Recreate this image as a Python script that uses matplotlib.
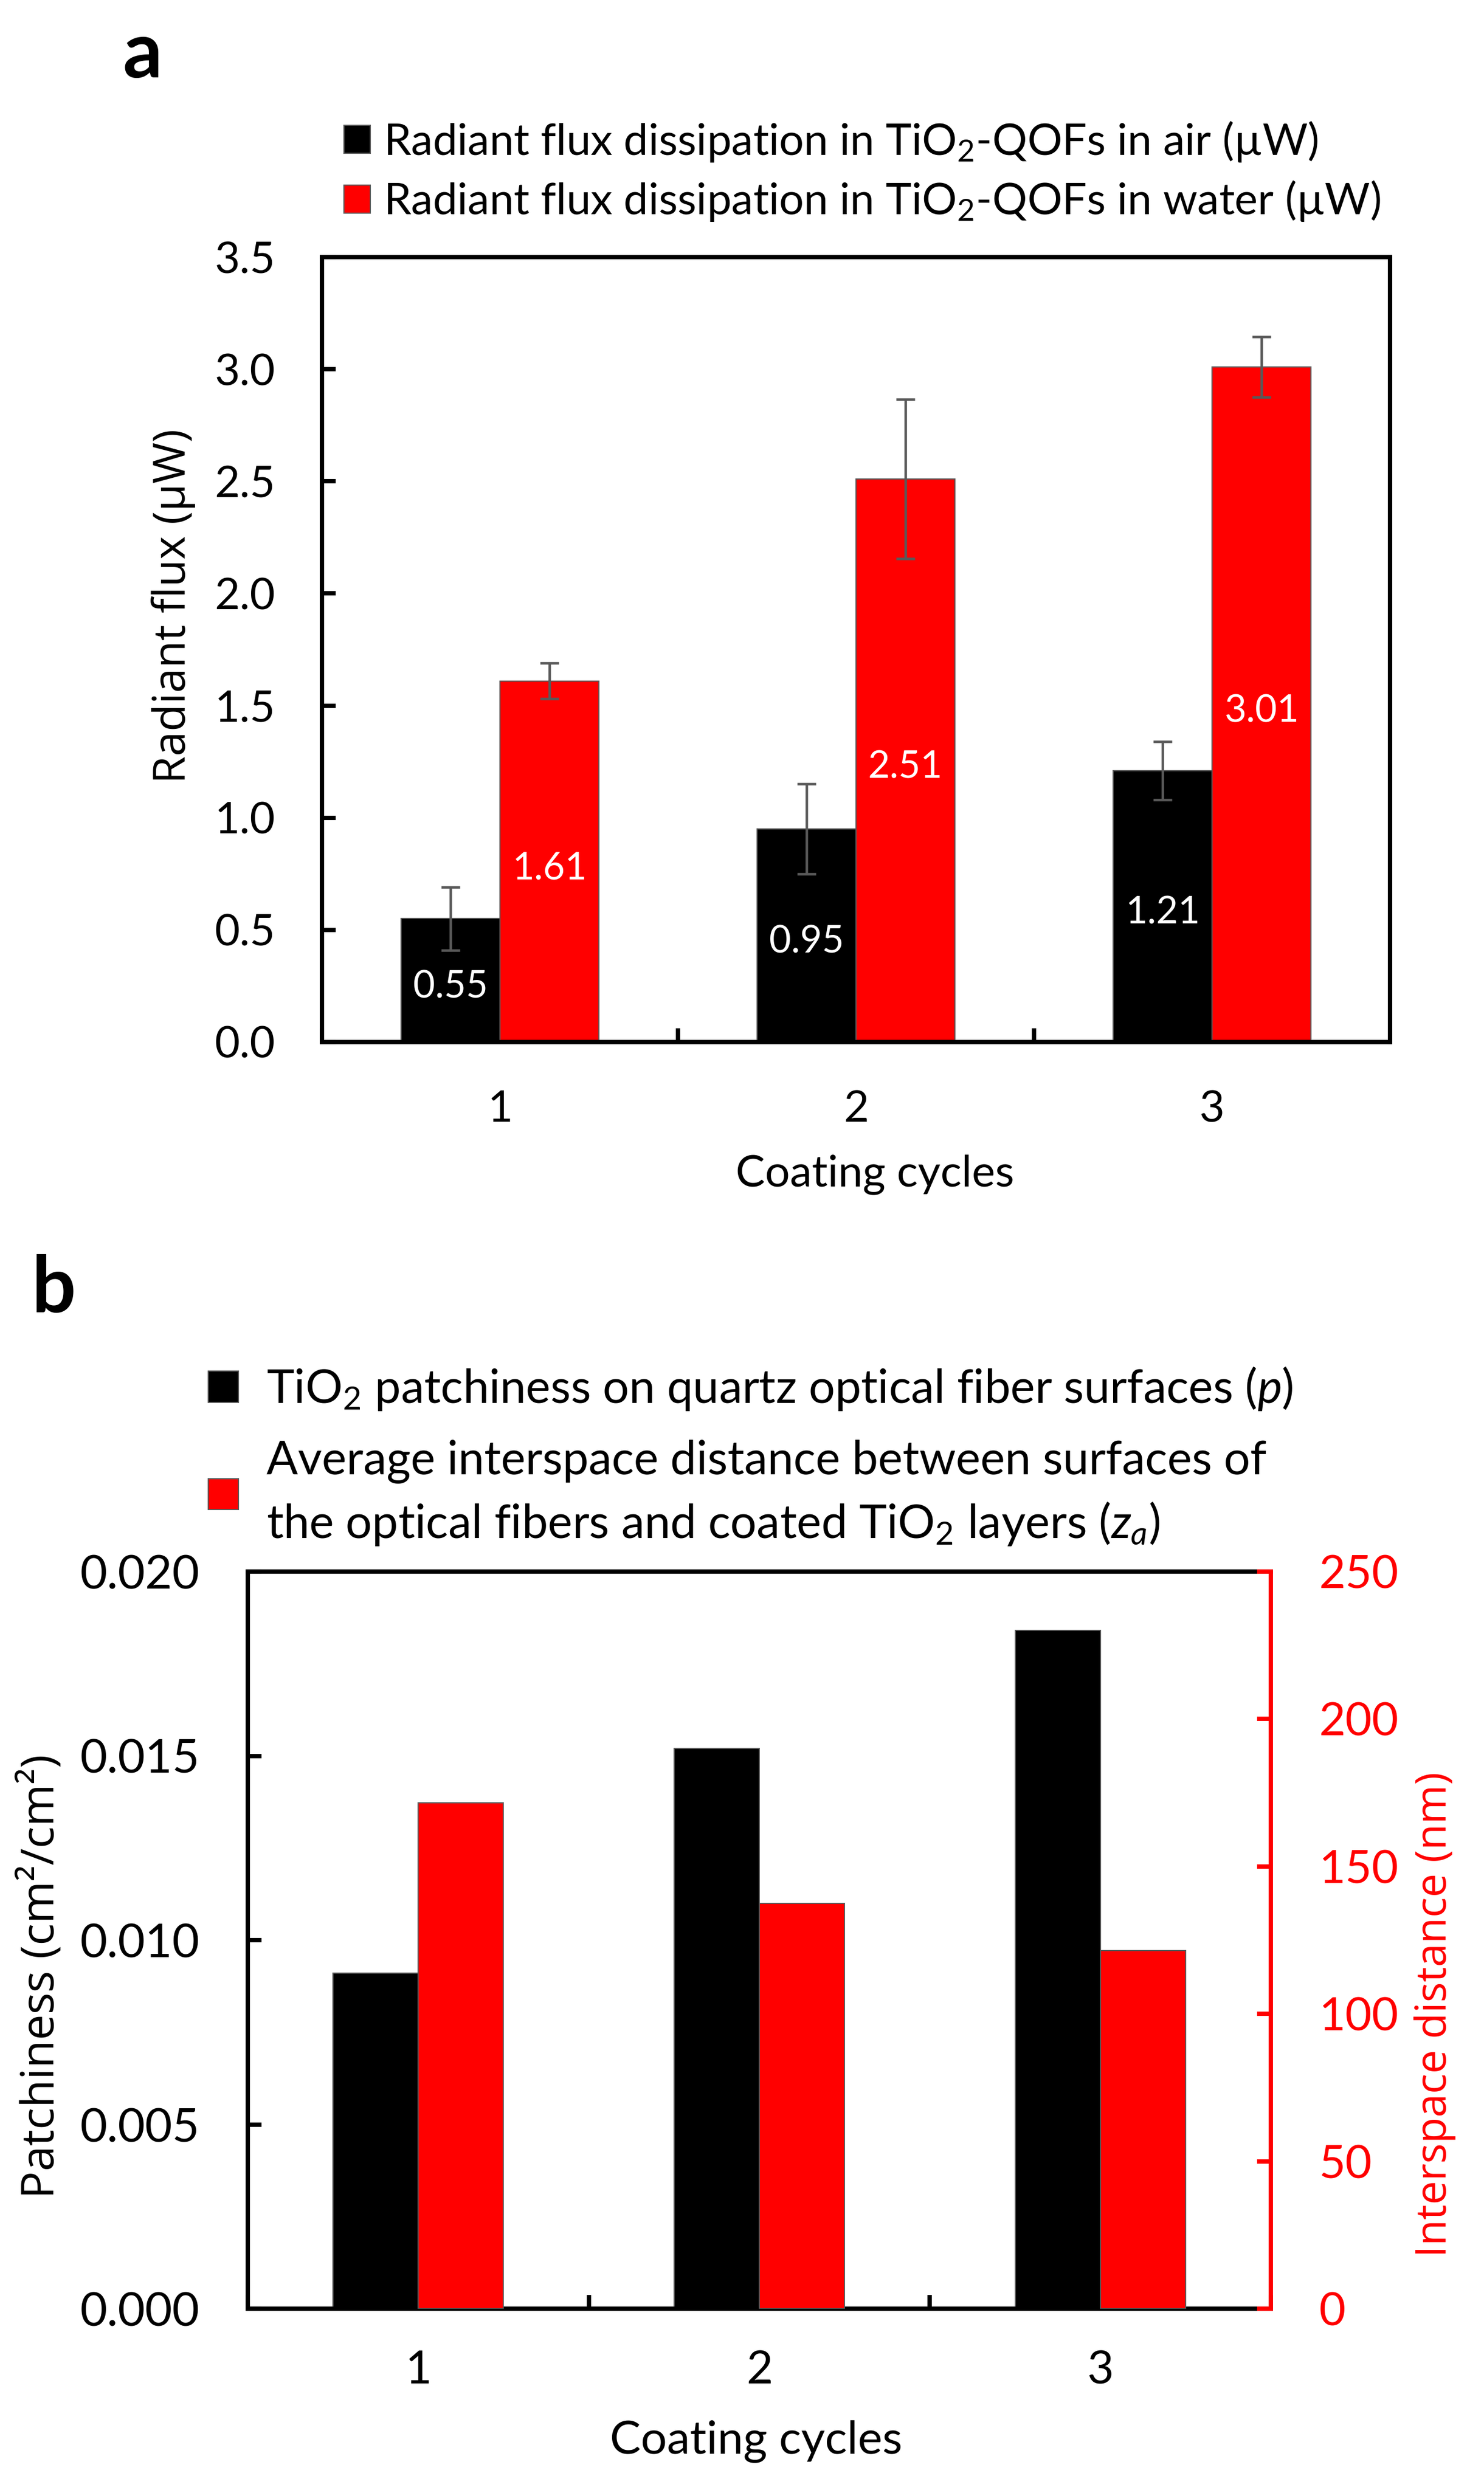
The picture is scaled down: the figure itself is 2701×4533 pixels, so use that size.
import matplotlib
matplotlib.use('Agg')
import matplotlib.pyplot as plt
from matplotlib.ticker import FixedLocator, FormatStrFormatter

# ---------------- data ----------------
cycles = [1, 2, 3]
cycle_labels = ['1', '2', '3']

flux_air = [0.55, 0.95, 1.21]
flux_air_err = [0.14, 0.20, 0.13]
flux_water = [1.61, 2.51, 3.01]
flux_water_err = [0.08, 0.355, 0.135]
flux_yticks = [0.0, 0.5, 1.0, 1.5, 2.0, 2.5, 3.0, 3.5]

patchiness = [0.0091, 0.0152, 0.0184]
interspace = [171.5, 137.5, 121.5]
patch_yticks = [0.000, 0.005, 0.010, 0.015, 0.020]
inter_yticks = [0, 50, 100, 150, 200, 250]

label_air = 'Radiant flux dissipation in TiO$_2$-QOFs in air (\u00b5W)'
label_water = 'Radiant flux dissipation in TiO$_2$-QOFs in water (\u00b5W)'
label_patch = 'TiO$_2$ patchiness on quartz optical fiber surfaces ($p$)'
label_inter = ('Average interspace distance between surfaces of\n'
               'the optical fibers and coated TiO$_2$ layers ($z_a$)')

# ---------------- style ----------------
CAL = ['Lato', 'DejaVu Sans']
SEG = ['Open Sans', 'DejaVu Sans']
plt.rcParams['font.family'] = CAL
plt.rcParams['mathtext.fontset'] = 'custom'
plt.rcParams['mathtext.rm'] = 'Lato'
plt.rcParams['mathtext.it'] = 'Lato:italic'
plt.rcParams['mathtext.bf'] = 'Lato:bold'

RED = '#FF0000'
W, H, DPI = 2701, 4533, 300
fig = plt.figure(figsize=(W / DPI, H / DPI), dpi=DPI)
fig.patch.set_facecolor('white')


def px_axes(l, r, t, b):
    return [l / W, 1 - b / H, (r - l) / W, (b - t) / H]


# ================= panel a =================
ax1 = fig.add_axes(px_axes(586, 2530, 468, 1897))
w1 = 0.278
xa = [c - w1 / 2 for c in cycles]
xw = [c + w1 / 2 for c in cycles]
ekw = dict(ecolor='#595959', elinewidth=1.1, capsize=4.0, capthick=1.1)
b_air = ax1.bar(xa, flux_air, w1, yerr=flux_air_err, color='black',
                edgecolor='#595959', linewidth=0.5, error_kw=ekw, zorder=2)
b_wat = ax1.bar(xw, flux_water, w1, yerr=flux_water_err, color=RED,
                edgecolor='#595959', linewidth=0.5, error_kw=ekw, zorder=2)
lbl_a = ax1.bar_label(b_air, labels=['%.2f' % v for v in flux_air], label_type='center',
                      color='white', fontsize=16.5, family=CAL, padding=-1.5)
lbl_w = ax1.bar_label(b_wat, labels=['%.2f' % v for v in flux_water], label_type='center',
                      color='white', fontsize=16.5, family=CAL, padding=-1.5)
for t in list(lbl_a) + list(lbl_w):
    t.set_va('center_baseline')

ax1.set_xlim(0.5, 3.5)
ax1.set_ylim(0, 3.5)
ax1.yaxis.set_major_locator(FixedLocator(flux_yticks))
ax1.yaxis.set_major_formatter(FormatStrFormatter('%.1f'))
ax1.set_xticks(cycles, cycle_labels)
ax1.set_xticks([0.5, 1.5, 2.5, 3.5], minor=True)
ax1.tick_params(axis='x', which='major', length=0, pad=21, labelsize=19)
ax1.tick_params(axis='x', which='minor', direction='in', length=6, width=1.9)
ax1.tick_params(axis='y', direction='in', length=6, width=1.9, pad=20.5, labelsize=19)
for s in ax1.spines.values():
    s.set_linewidth(1.9)

ax1.set_xlabel('Coating cycles', fontsize=19.2, family=CAL)
ax1.xaxis.set_label_coords(1592 / W, 1 - 2138 / H, transform=fig.transFigure)
ax1.xaxis.label.set_va('center')
ax1.set_ylabel('Radiant flux (\u00b5W)', fontsize=19.5, family=SEG)
ax1.yaxis.set_label_coords(316 / W, 1 - 1103 / H, transform=fig.transFigure)
ax1.yaxis.label.set_va('center')

leg1 = ax1.legend([b_air, b_wat], [label_air, label_water], loc='center left',
                  bbox_to_anchor=(626 / W, 1 - 312 / H), bbox_transform=fig.transFigure,
                  frameon=False, prop={'family': CAL, 'size': 19.1},
                  handlelength=0.6, handleheight=0.6, handletextpad=0.3,
                  borderpad=0, borderaxespad=0, labelspacing=0.36)

fig.text(259 / W, 1 - 100 / H, 'a', fontsize=34, fontweight='bold', family=CAL,
         ha='center', va='center')

# ================= panel b =================
ax2 = fig.add_axes(px_axes(451, 2313, 2861, 4203))
ax3 = ax2.twinx()
w2 = 0.25
xp = [c - w2 / 2 for c in cycles]
xi = [c + w2 / 2 for c in cycles]
b_p = ax2.bar(xp, patchiness, w2, color='black', edgecolor='#595959',
              linewidth=0.5, zorder=2)
b_i = ax3.bar(xi, interspace, w2, color=RED, edgecolor='#595959',
              linewidth=0.5, zorder=2)

ax2.set_xlim(0.5, 3.5)
ax2.set_ylim(0, 0.020)
ax3.set_ylim(0, 250)
ax2.yaxis.set_major_locator(FixedLocator(patch_yticks))
ax2.yaxis.set_major_formatter(FormatStrFormatter('%.3f'))
ax3.yaxis.set_major_locator(FixedLocator(inter_yticks))
ax3.yaxis.set_major_formatter(FormatStrFormatter('%d'))
ax2.set_xticks(cycles, cycle_labels)
ax2.set_xticks([0.5, 1.5, 2.5, 3.5], minor=True)
ax2.tick_params(axis='x', which='major', length=0, pad=18, labelsize=20)
ax2.tick_params(axis='x', which='minor', direction='in', length=6, width=1.9)
ax2.tick_params(axis='y', direction='in', length=6, width=1.9, pad=21, labelsize=20.5)
ax3.tick_params(axis='y', direction='in', length=6, width=1.9, pad=21, labelsize=20,
                colors=RED)
for s in ax2.spines.values():
    s.set_linewidth(1.9)
for s in ax3.spines.values():
    s.set_linewidth(1.9)
ax2.spines['right'].set_visible(False)
ax3.spines['right'].set_color(RED)
ax3.spines['left'].set_visible(False)
ax3.spines['top'].set_visible(False)
ax3.spines['bottom'].set_visible(False)

ax2.set_xlabel('Coating cycles', fontsize=20.2, family=CAL)
ax2.xaxis.set_label_coords(1376 / W, 1 - 4444 / H, transform=fig.transFigure)
ax2.xaxis.label.set_va('center')
ax2.set_ylabel('Patchiness (cm\u00b2/cm\u00b2)', fontsize=20, family=SEG)
ax2.yaxis.set_label_coords(76 / W, 1 - 3598 / H, transform=fig.transFigure)
ax2.yaxis.label.set_va('center')
ax3.set_ylabel('Interspace distance (nm)', fontsize=18.5, family=SEG, color=RED)
ax3.yaxis.set_label_coords(2612 / W, 1 - 3667 / H, transform=fig.transFigure)
ax3.yaxis.label.set_va('center')

leg2 = ax3.legend([b_p, b_i], [label_patch, label_inter], loc='center left',
                  bbox_to_anchor=(379 / W, 1 - 2651 / H), bbox_transform=fig.transFigure,
                  frameon=False, prop={'family': CAL, 'size': 20.3},
                  handlelength=0.65, handleheight=0.65, handletextpad=0.6,
                  borderpad=0, borderaxespad=0, labelspacing=0.57)
for t in leg2.get_texts():
    t.set_linespacing(1.45)

fig.text(98 / W, 1 - 2347 / H, 'b', fontsize=34, fontweight='bold', family=CAL,
         ha='center', va='center')

fig.savefig('out.png', dpi=DPI, facecolor='white')
